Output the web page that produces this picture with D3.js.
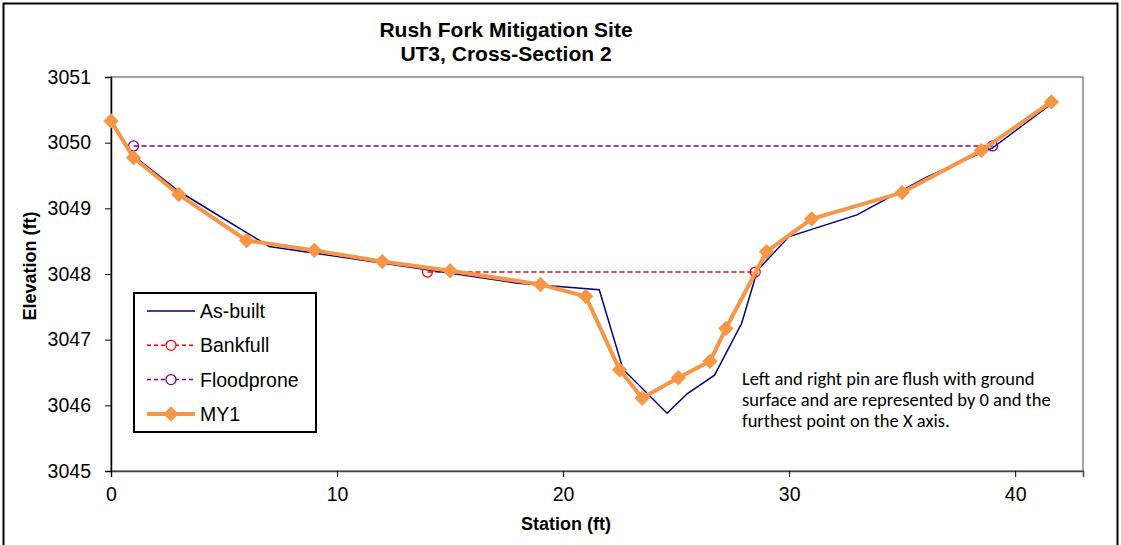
<!DOCTYPE html>
<html><head><meta charset="utf-8">
<script src="https://cdn.jsdelivr.net/npm/d3@7"></script>
<style>body{margin:0;background:#fff}svg{display:block}</style>
</head><body><svg id="c" width="1121" height="545"></svg>
<script>
const titleLines = ["Rush Fork Mitigation Site", "UT3, Cross-Section 2"];
const xTicks = [0, 10, 20, 30, 40];
const yTicks = [3045, 3046, 3047, 3048, 3049, 3050, 3051];
const asBuiltX = [0, 1, 3, 7, 18, 21.6, 22.65, 24.6, 25.5, 26.7, 27.9, 28.6, 30, 33, 36.1, 39, 41.6];
const asBuiltY = [3050.33, 3049.80, 3049.26, 3048.42, 3047.86, 3047.76, 3046.55, 3045.88, 3046.18, 3046.46, 3047.25, 3048.06, 3048.57, 3048.90, 3049.48, 3049.92, 3050.59];
const bankfullX = [14, 28.5];
const bankfullY = [3048.03, 3048.03];
const floodX = [1, 39];
const floodY = [3049.95, 3049.95];
const my1X = [0, 1, 3, 6, 9, 12, 15, 19, 21, 22.5, 23.5, 25.1, 26.5, 27.2, 29, 31, 35, 38.5, 41.6];
const my1Y = [3050.33, 3049.77, 3049.21, 3048.51, 3048.36, 3048.19, 3048.05, 3047.84, 3047.66, 3046.54, 3046.11, 3046.42, 3046.67, 3047.17, 3048.34, 3048.84, 3049.24, 3049.88, 3050.62];
const legendNames = ["As-built", "Bankfull", "Floodprone", "MY1"];
const note = ["Left and right pin are flush with ground", "surface and are represented by 0 and the", "furthest point on the X axis."];

const svg = d3.select("#c");
const L = 111, R = 1083, T = 77, B = 471;
const x = d3.scaleLinear().domain([0, 43]).range([L, R]);
const y = d3.scaleLinear().domain([3045, 3051]).range([B, T]);

svg.append("rect").attr("x", 3.5).attr("y", 3.5).attr("width", 1114).attr("height", 560)
  .attr("fill", "none").attr("stroke", "#000").attr("stroke-width", 2);

svg.append("rect").attr("x", L).attr("y", T).attr("width", R - L).attr("height", B - T)
  .attr("fill", "none").attr("stroke", "#888").attr("stroke-width", 1.5);

const fontA = "Liberation Sans, Arial, sans-serif";
const ax = svg.append("g").attr("transform", `translate(0,${B})`)
  .call(d3.axisBottom(x).tickValues(xTicks).tickSize(6).tickPadding(10).tickFormat(d3.format("d")));
const ay = svg.append("g").attr("transform", `translate(${L},0)`)
  .call(d3.axisLeft(y).tickValues(yTicks).tickSize(6).tickPadding(14).tickFormat(d3.format("d")));
[ax, ay].forEach(g => {
  g.selectAll("text").attr("font-family", fontA).attr("font-size", 19.5).attr("fill", "#000");
  g.select(".domain").attr("stroke", "#000").attr("stroke-width", 1.5);
  g.selectAll(".tick line").attr("stroke", "#000");
});
ax.select(".domain").attr("stroke", "#444");

svg.selectAll("text.title").data(titleLines).join("text")
  .attr("x", 506).attr("y", (d, i) => 37 + i * 24).attr("text-anchor", "middle")
  .attr("font-family", fontA).attr("font-weight", "bold").attr("font-size", 21).text(d => d);

svg.append("text").attr("transform", "translate(36,266) rotate(-90)").attr("text-anchor", "middle")
  .attr("font-family", fontA).attr("font-weight", "bold").attr("font-size", 18).text("Elevation (ft)");
svg.append("text").attr("x", 566).attr("y", 530).attr("text-anchor", "middle")
  .attr("font-family", fontA).attr("font-weight", "bold").attr("font-size", 18).text("Station (ft)");

const line = d3.line().x(d => x(d[0])).y(d => y(d[1]));
const zip = (a, b) => a.map((v, i) => [v, b[i]]);
const asBuilt = zip(asBuiltX, asBuiltY), bank = zip(bankfullX, bankfullY),
      flood = zip(floodX, floodY), my1 = zip(my1X, my1Y);

svg.append("path").datum(flood).attr("d", line).attr("fill", "none").attr("stroke", "#800080")
  .attr("stroke-width", 1.5).attr("stroke-dasharray", "5,3");
svg.append("path").datum(bank).attr("d", line).attr("fill", "none").attr("stroke", "#ff0000")
  .attr("stroke-width", 1.5).attr("stroke-dasharray", "5,3");
svg.append("path").datum(asBuilt).attr("d", line).attr("fill", "none").attr("stroke", "#000080")
  .attr("stroke-width", 1.5);
svg.selectAll("circle.fl").data(flood).join("circle").attr("cx", d => x(d[0])).attr("cy", d => y(d[1]))
  .attr("r", 5).attr("fill", "none").attr("stroke", "#800080").attr("stroke-width", 1.3);
svg.selectAll("circle.bk").data(bank).join("circle").attr("cx", d => x(d[0])).attr("cy", d => y(d[1]))
  .attr("r", 5).attr("fill", "none").attr("stroke", "#ff0000").attr("stroke-width", 1.3);
const orange = "#f79646";
svg.append("path").datum(my1).attr("d", line).attr("fill", "none").attr("stroke", orange)
  .attr("stroke-width", 4).attr("stroke-linejoin", "round");
const diamond = d3.symbol().type(d3.symbolDiamond2).size(150);
svg.selectAll("path.my1").data(my1).join("path").attr("d", diamond)
  .attr("transform", d => `translate(${x(d[0])},${y(d[1])})`).attr("fill", orange);

// legend
const lg = svg.append("g");
lg.append("rect").attr("x", 134).attr("y", 293).attr("width", 182).attr("height", 139)
  .attr("fill", "#fff").attr("stroke", "#000").attr("stroke-width", 2);
const styles = [
  {c: "#000080", w: 1.5, dash: null, m: null},
  {c: "#ff0000", w: 1.5, dash: "4,3", m: "circle"},
  {c: "#800080", w: 1.5, dash: "4,3", m: "circle"},
  {c: orange, w: 4, dash: null, m: "diamond"}
];
legendNames.forEach((n, i) => {
  const yy = 311 + i * 34.3, s = styles[i];
  lg.append("line").attr("x1", 147).attr("x2", 195).attr("y1", yy).attr("y2", yy)
    .attr("stroke", s.c).attr("stroke-width", s.w).attr("stroke-dasharray", s.dash);
  if (s.m === "circle") lg.append("circle").attr("cx", 171).attr("cy", yy).attr("r", 5)
    .attr("fill", "#fff").attr("stroke", s.c).attr("stroke-width", 1.3);
  if (s.m === "diamond") lg.append("path").attr("d", diamond).attr("transform", `translate(171,${yy})`).attr("fill", orange);
  lg.append("text").attr("x", 200).attr("y", yy + 7).attr("font-family", fontA).attr("font-size", 19.5).text(n);
});

svg.selectAll("text.note").data(note).join("text")
  .attr("x", 742).attr("y", (d, i) => 385 + i * 21).attr("font-family", "Carlito, Lato, sans-serif")
  .attr("font-size", 18.5).text(d => d);
</script></body></html>
